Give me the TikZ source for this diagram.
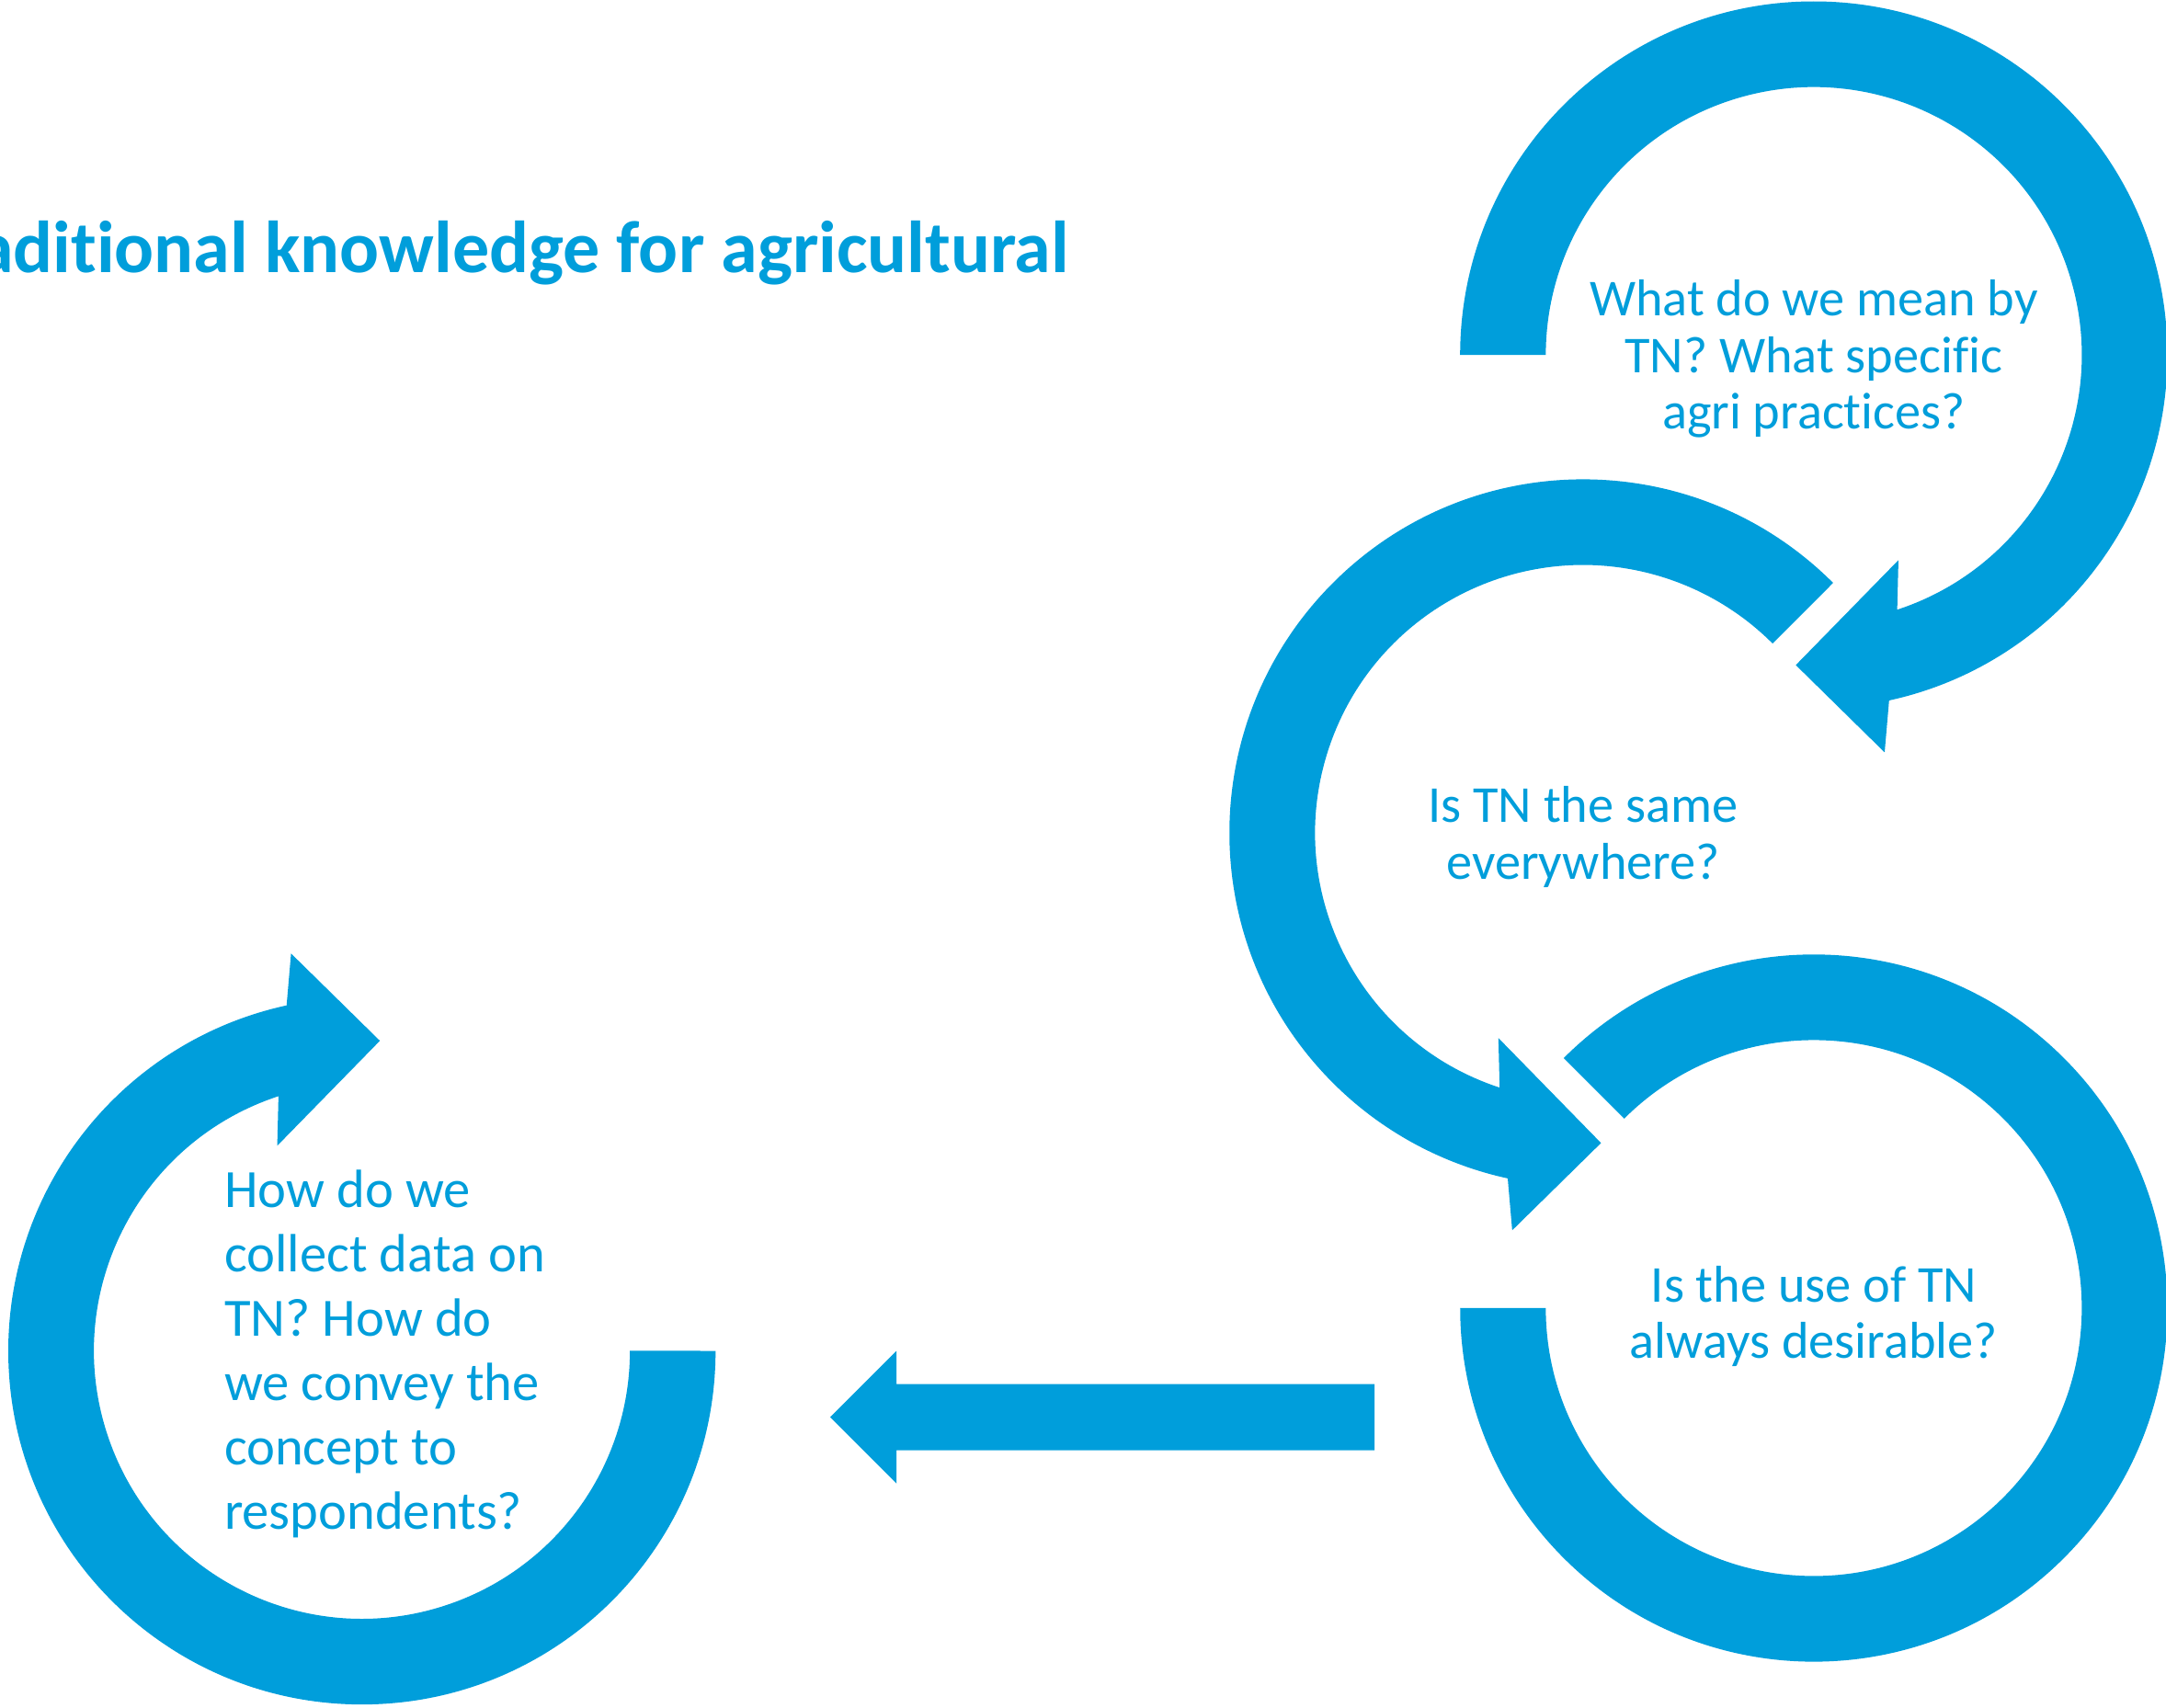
\documentclass[tikz,border=0pt]{standalone}
\usepackage{fontspec}
\setmainfont[Ligatures=NoCommon]{Carlito}
\definecolor{tnblue}{RGB}{0,158,219}
\tikzset{
  loopband/.style={fill=tnblue, draw=none},
  question/.style={text=tnblue, inner sep=0pt, align=center, font=\fontsize{18.75}{20.5}\selectfont},
}

\begin{document}
\begin{tikzpicture}[x=0.5pt,y=0.5pt,yscale=-1,xscale=1]
        \useasboundingbox (0,0) rectangle (1568,1236);

        %Shape: Circular Arrow [top right]
        \fill[loopband] (1057,257) arc (180:437.7:256) -- (1364.3,544.7) -- (1300,481.5) -- (1374.3,405.5) -- (1373.4,441.4) arc (431.86:180:194) -- cycle ;
        %Shape: Circular Arrow [middle]
        \fill[loopband] (1327,422) arc (315:102.3:256) -- (1094.7,890.7) -- (1159,827.5) -- (1084.7,751.5) -- (1085.6,787.4) arc (108.14:315:194) -- cycle ;
        %Shape: Block Arc [bottom right]
        \fill[loopband] (1132,766) arc (225:540:256) -- (1119,947) arc (540:225:194) -- cycle ;
        %Shape: Circular Arrow [bottom left]
        \fill[loopband] (518,978) arc (0:257.7:256) -- (210.7,690.3) -- (275,753.5) -- (200.7,829.5) -- (201.6,793.6) arc (251.86:0:194) -- cycle ;
        %Shape: Left Arrow
        \fill[loopband] (995,1002) -- (649,1002) -- (649,978) -- (601,1026) -- (649,1074) -- (649,1050) -- (995,1050) -- cycle ;

        % Text Node
        \node[text=tnblue, anchor=base west, inner sep=0pt, font=\bfseries\fontsize{26.65}{30}\selectfont] (title) at (-17,197) {aditional knowledge for agricultural};
        % Text Node
        \node[question] (whatTN) at (1313,260) {What do we mean by\\TN? What specific\\agri practices?};
        % Text Node
        \node[question] (sameTN) at (1146,606) {Is TN the same\\everywhere?};
        % Text Node
        \node[question] (useTN) at (1313,953) {Is the use of TN\\always desirable?};
        % Text Node
        \node[question, align=left, anchor=west, font=\fontsize{19.5}{23.3}\selectfont] (collectTN) at (162,980) {How do we\\collect data on\\TN? How do\\we convey the\\concept to\\respondents?};

\end{tikzpicture}
\end{document}
